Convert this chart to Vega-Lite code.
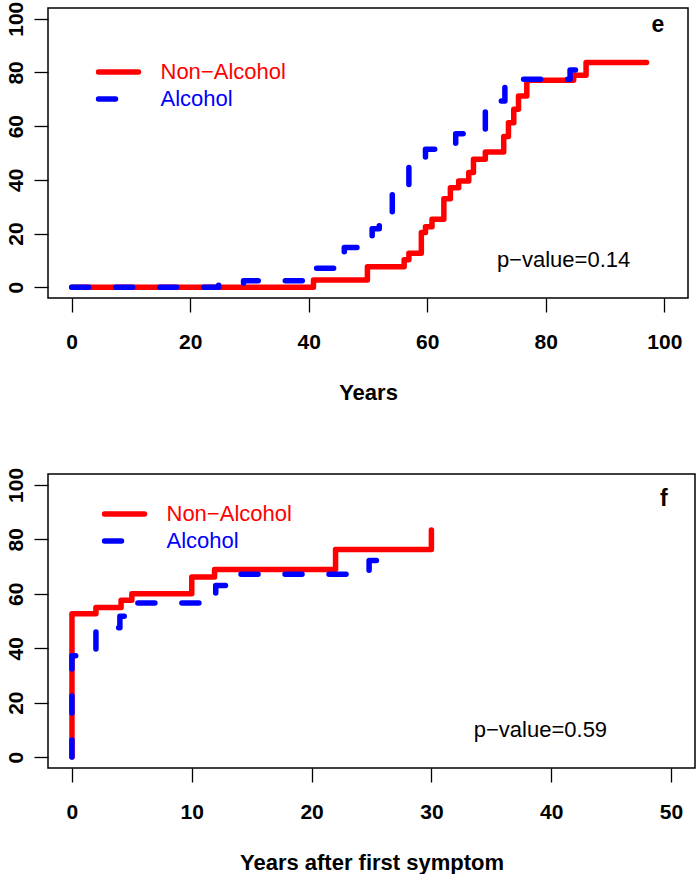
{
  "$schema": "https://vega.github.io/schema/vega-lite/v6.json",
  "background": "white",
  "padding": {"left": 4, "top": 0, "right": 0, "bottom": 0},
  "config": {
    "font": "Liberation Sans",
    "view": {"stroke": "black", "strokeWidth": 1.5},
    "axis": {
      "domain": false,
      "grid": false,
      "tickColor": "black",
      "tickSize": 14,
      "tickWidth": 1.3,
      "labelFont": "Liberation Sans",
      "labelFontWeight": "bold",
      "labelFontSize": 21,
      "labelColor": "black",
      "titleFont": "Liberation Sans",
      "titleFontWeight": "bold",
      "titleFontSize": 22,
      "titleColor": "black"
    },
    "axisX": {"labelPadding": 19, "titlePadding": 30, "labelAngle": 0},
    "axisY": {"labelAngle": 270, "labelAlign": "center", "labelBaseline": "alphabetic", "labelPadding": 12},
    "legend": {
      "orient": "none",
      "title": null,
      "symbolType": "stroke",
      "symbolSize": 1600,
      "symbolStrokeWidth": 5.5,
      "labelFont": "Liberation Sans",
      "labelFontSize": 22,
      "labelOffset": 19,
      "padding": 0,
      "rowPadding": 2,
      "clipHeight": 25
    }
  },
  "datasets": {
    "age": [
      {"group": "Non−Alcohol", "x": 0, "y": 0},
      {"group": "Non−Alcohol", "x": 40.8, "y": 2.7},
      {"group": "Non−Alcohol", "x": 49.9, "y": 7.6},
      {"group": "Non−Alcohol", "x": 56.1, "y": 10.2},
      {"group": "Non−Alcohol", "x": 56.9, "y": 12.7},
      {"group": "Non−Alcohol", "x": 59.0, "y": 20.4},
      {"group": "Non−Alcohol", "x": 59.7, "y": 22.5},
      {"group": "Non−Alcohol", "x": 60.8, "y": 25.3},
      {"group": "Non−Alcohol", "x": 62.8, "y": 33.0},
      {"group": "Non−Alcohol", "x": 63.9, "y": 37.1},
      {"group": "Non−Alcohol", "x": 65.3, "y": 39.6},
      {"group": "Non−Alcohol", "x": 67.0, "y": 42.7},
      {"group": "Non−Alcohol", "x": 67.8, "y": 47.7},
      {"group": "Non−Alcohol", "x": 69.8, "y": 50.4},
      {"group": "Non−Alcohol", "x": 72.9, "y": 56.1},
      {"group": "Non−Alcohol", "x": 73.7, "y": 61.3},
      {"group": "Non−Alcohol", "x": 74.6, "y": 66.3},
      {"group": "Non−Alcohol", "x": 75.4, "y": 71.2},
      {"group": "Non−Alcohol", "x": 76.8, "y": 77.1},
      {"group": "Non−Alcohol", "x": 84.7, "y": 79.0},
      {"group": "Non−Alcohol", "x": 86.8, "y": 83.7},
      {"group": "Non−Alcohol", "x": 97.0, "y": 83.7},
      {"group": "Alcohol", "x": 0, "y": 0},
      {"group": "Alcohol", "x": 24.8, "y": 1.2},
      {"group": "Alcohol", "x": 29.0, "y": 2.4},
      {"group": "Alcohol", "x": 40.5, "y": 7.1},
      {"group": "Alcohol", "x": 46.0, "y": 14.8},
      {"group": "Alcohol", "x": 50.7, "y": 21.8},
      {"group": "Alcohol", "x": 51.9, "y": 25.0},
      {"group": "Alcohol", "x": 54.1, "y": 35.9},
      {"group": "Alcohol", "x": 56.9, "y": 46.1},
      {"group": "Alcohol", "x": 59.7, "y": 51.4},
      {"group": "Alcohol", "x": 64.8, "y": 57.2},
      {"group": "Alcohol", "x": 69.8, "y": 69.4},
      {"group": "Alcohol", "x": 73.1, "y": 77.5},
      {"group": "Alcohol", "x": 84.1, "y": 80.9},
      {"group": "Alcohol", "x": 85.8, "y": 83.9}
    ],
    "symptom": [
      {"group": "Non−Alcohol", "x": 0, "y": 0},
      {"group": "Non−Alcohol", "x": 0, "y": 52.7},
      {"group": "Non−Alcohol", "x": 2, "y": 55.0},
      {"group": "Non−Alcohol", "x": 4.1, "y": 57.6},
      {"group": "Non−Alcohol", "x": 5, "y": 60.0},
      {"group": "Non−Alcohol", "x": 10, "y": 66.2},
      {"group": "Non−Alcohol", "x": 11.9, "y": 68.9},
      {"group": "Non−Alcohol", "x": 22, "y": 76.3},
      {"group": "Non−Alcohol", "x": 30, "y": 83.4},
      {"group": "Alcohol", "x": 0, "y": 0},
      {"group": "Alcohol", "x": 0, "y": 37.2},
      {"group": "Alcohol", "x": 2, "y": 47.5},
      {"group": "Alcohol", "x": 4, "y": 51.7},
      {"group": "Alcohol", "x": 5, "y": 56.6},
      {"group": "Alcohol", "x": 11, "y": 58.6},
      {"group": "Alcohol", "x": 12, "y": 63.0},
      {"group": "Alcohol", "x": 13, "y": 67.2},
      {"group": "Alcohol", "x": 24.8, "y": 72.2},
      {"group": "Alcohol", "x": 26.2, "y": 72.2}
    ]
  },
  "bounds": "flush",
  "spacing": 176,
  "resolve": {
    "scale": {"x": "independent", "y": "independent", "color": "independent", "strokeDash": "independent"},
    "legend": {"color": "independent", "strokeDash": "independent"}
  },
  "vconcat": [
    {
      "width": 640,
      "height": 290,
      "layer": [
        {
          "data": {"name": "age"},
          "mark": {"type": "line", "interpolate": "step-after", "strokeWidth": 5.5, "strokeCap": "round", "strokeJoin": "round"},
          "encoding": {
            "x": {"field": "x", "type": "quantitative", "scale": {"domain": [-4, 104], "nice": false, "zero": false}, "axis": {"values": [0, 20, 40, 60, 80, 100], "title": "Years", "format": "d"}},
            "y": {"field": "y", "type": "quantitative", "scale": {"domain": [-4, 104], "nice": false, "zero": false}, "axis": {"values": [0, 20, 40, 60, 80, 100], "title": null, "format": "d"}},
            "color": {"field": "group", "type": "nominal", "scale": {"domain": ["Non−Alcohol", "Alcohol"], "range": ["#ff0000", "#0000ff"]},
              "legend": {"legendX": 47.5, "legendY": 51.5, "encode": {"labels": {"update": {"fill": {"signal": "datum.value === 'Alcohol' ? '#0000ff' : '#ff0000'"}}}, "symbols": {"update": {"strokeCap": {"value": "round"}}}}}},
            "strokeDash": {"field": "group", "type": "nominal", "scale": {"domain": ["Non−Alcohol", "Alcohol"], "range": [[1, 0], [17, 27]]},
              "legend": {"legendX": 47.5, "legendY": 51.5, "encode": {"labels": {"update": {"fill": {"signal": "datum.value === 'Alcohol' ? '#0000ff' : '#ff0000'"}}}, "symbols": {"update": {"strokeCap": {"value": "round"}}}}}},
            "order": {"value": null}
          }
        },
        {
          "data": {"values": [{}]},
          "mark": {"type": "text", "fontSize": 22, "color": "black", "align": "center", "baseline": "middle"},
          "encoding": {"x": {"datum": 83, "type": "quantitative"}, "y": {"datum": 10, "type": "quantitative"}, "text": {"value": "p−value=0.14"}}
        },
        {
          "data": {"values": [{}]},
          "mark": {"type": "text", "fontSize": 23, "fontWeight": "bold", "color": "black", "align": "center", "baseline": "middle"},
          "encoding": {"x": {"datum": 98.9, "type": "quantitative"}, "y": {"datum": 97.8, "type": "quantitative"}, "text": {"value": "e"}}
        }
      ]
    },
    {
      "width": 647,
      "height": 294,
      "layer": [
        {
          "data": {"name": "symptom"},
          "mark": {"type": "line", "interpolate": "step-after", "strokeWidth": 5.5, "strokeCap": "round", "strokeJoin": "round"},
          "encoding": {
            "x": {"field": "x", "type": "quantitative", "scale": {"domain": [-2, 52], "nice": false, "zero": false}, "axis": {"values": [0, 10, 20, 30, 40, 50], "title": "Years after first symptom", "format": "d"}},
            "y": {"field": "y", "type": "quantitative", "scale": {"domain": [-4, 104], "nice": false, "zero": false}, "axis": {"values": [0, 20, 40, 60, 80, 100], "title": null, "format": "d"}},
            "color": {"field": "group", "type": "nominal", "scale": {"domain": ["Non−Alcohol", "Alcohol"], "range": ["#ff0000", "#0000ff"]},
              "legend": {"legendX": 53.5, "legendY": 27.5, "encode": {"labels": {"update": {"fill": {"signal": "datum.value === 'Alcohol' ? '#0000ff' : '#ff0000'"}}}, "symbols": {"update": {"strokeCap": {"value": "round"}}}}}},
            "strokeDash": {"field": "group", "type": "nominal", "scale": {"domain": ["Non−Alcohol", "Alcohol"], "range": [[1, 0], [17, 27]]},
              "legend": {"legendX": 53.5, "legendY": 27.5, "encode": {"labels": {"update": {"fill": {"signal": "datum.value === 'Alcohol' ? '#0000ff' : '#ff0000'"}}}, "symbols": {"update": {"strokeCap": {"value": "round"}}}}}},
            "order": {"value": null}
          }
        },
        {
          "data": {"values": [{}]},
          "mark": {"type": "text", "fontSize": 22, "color": "black", "align": "center", "baseline": "middle"},
          "encoding": {"x": {"datum": 39.1, "type": "quantitative"}, "y": {"datum": 10, "type": "quantitative"}, "text": {"value": "p−value=0.59"}}
        },
        {
          "data": {"values": [{}]},
          "mark": {"type": "text", "fontSize": 23, "fontWeight": "bold", "color": "black", "align": "center", "baseline": "middle"},
          "encoding": {"x": {"datum": 49.4, "type": "quantitative"}, "y": {"datum": 94.8, "type": "quantitative"}, "text": {"value": "f"}}
        }
      ]
    }
  ]
}
